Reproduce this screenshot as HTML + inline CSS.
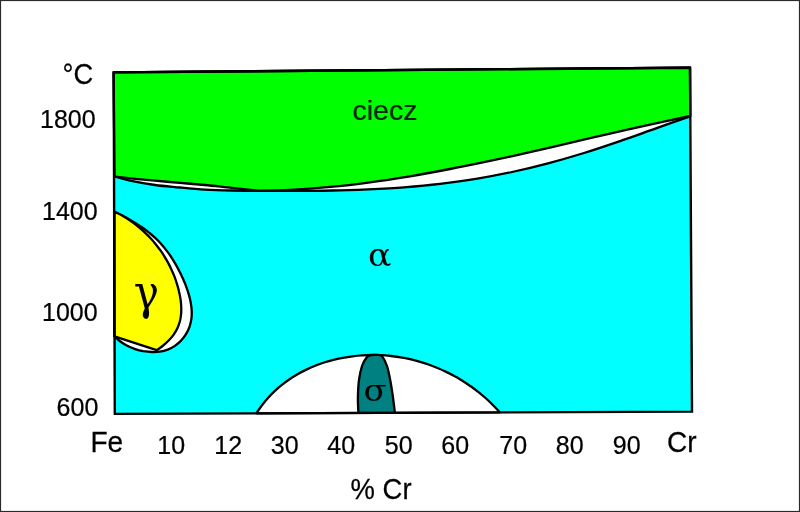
<!DOCTYPE html>
<html><head><meta charset="utf-8">
<style>
html,body{margin:0;padding:0;background:#fff;}
body{width:800px;height:512px;overflow:hidden;position:relative;}
svg{position:absolute;left:0;top:0;display:block;}
text{font-family:"Liberation Sans",sans-serif;fill:#000;}
.n,.l{stroke:#000;stroke-width:0.25px;}
.n{font-size:25.5px;}
.l{font-size:28.5px;}
.g{font-family:"DejaVu Serif","Liberation Serif",serif;}
path{stroke-linejoin:round;}
</style></head><body>
<svg width="800" height="512" viewBox="0 0 800 512">
<rect x="0" y="0" width="800" height="512" fill="#fff"/>
<rect x="0.5" y="0.5" width="799" height="511" fill="none" stroke="#2a2a2a" stroke-width="1.2"/>
<path d="M113.7,72.4 L690.0,67.7 L692.0,411.6 L114.8,413.9 Z" fill="#00ffff"/>
<path d="M114.5,176.5 C117.1,177.2 123.2,179.2 130.0,180.6 C136.8,182.0 146.7,183.8 155.0,185.0 C163.3,186.2 171.7,186.7 180.0,187.5 C188.3,188.3 196.3,189.1 205.0,189.6 C213.7,190.1 222.8,190.3 232.0,190.5 C241.2,190.7 249.3,190.8 260.0,190.8 C270.7,190.9 284.0,191.0 296.0,190.9 C308.0,190.9 320.0,190.8 332.0,190.5 C344.0,190.3 356.0,189.9 368.0,189.4 C380.0,188.8 392.0,188.2 404.0,187.3 C416.0,186.3 428.0,185.2 440.0,183.8 C452.0,182.4 464.0,180.8 476.0,178.8 C488.0,176.9 500.0,174.6 512.0,172.0 C524.0,169.5 536.0,166.6 548.0,163.4 C560.0,160.2 572.0,156.7 584.0,153.0 C596.0,149.3 608.0,145.2 620.0,141.1 C632.0,137.0 644.3,132.5 656.0,128.4 C667.7,124.2 684.3,118.3 690.0,116.3 L690.0,67.7 L113.7,72.4 Z" fill="#fff" stroke="#000" stroke-width="2.3"/>
<path d="M113.7,72.4 L690.0,67.7 L690.3,116.0 C683.3,117.4 663.3,121.7 650.0,124.6 C636.7,127.5 623.3,130.6 610.0,133.7 C596.7,136.7 583.3,139.8 570.0,142.9 C556.7,146.0 543.3,149.1 530.0,152.1 C516.7,155.1 503.3,158.1 490.0,160.9 C476.7,163.7 463.3,166.5 450.0,169.0 C436.7,171.6 423.3,174.1 410.0,176.3 C396.7,178.5 383.3,180.6 370.0,182.3 C356.7,184.1 343.3,185.7 330.0,186.9 C316.7,188.2 302.1,189.2 290.0,189.8 C277.9,190.4 262.9,190.5 257.5,190.6 C253.2,190.2 240.8,188.8 232.0,187.9 C223.2,187.0 213.7,185.8 205.0,185.0 C196.3,184.2 188.3,183.6 180.0,182.9 C171.7,182.2 163.3,181.4 155.0,180.6 C146.7,179.8 136.8,179.0 130.0,178.3 C123.2,177.6 117.1,176.8 114.5,176.5 Z" fill="#00ff00" stroke="#000" stroke-width="2.3"/>
<path d="M114.5,211.7 C115.7,212.3 119.4,214.1 121.8,215.3 C124.2,216.6 126.7,217.9 129.0,219.2 C131.4,220.6 133.8,222.0 136.1,223.4 C138.5,224.9 140.8,226.4 143.0,228.0 C145.2,229.6 147.4,231.2 149.5,233.0 C151.7,234.7 153.7,236.5 155.7,238.4 C157.7,240.2 159.6,242.2 161.4,244.2 C163.2,246.3 165.0,248.4 166.6,250.6 C168.3,252.8 169.9,255.0 171.4,257.3 C172.9,259.6 174.3,261.9 175.7,264.3 C177.0,266.6 178.3,269.0 179.5,271.5 C180.8,273.9 181.9,276.3 183.0,278.8 C184.1,281.3 185.2,283.8 186.1,286.3 C187.1,288.9 188.0,291.6 188.7,294.2 C189.5,296.9 190.2,299.7 190.7,302.4 C191.2,305.2 191.6,308.0 191.7,310.7 C191.8,313.4 191.8,316.2 191.4,318.9 C191.0,321.6 190.4,324.2 189.5,326.8 C188.6,329.3 187.4,331.8 186.0,334.1 C184.6,336.4 182.9,338.6 181.1,340.6 C179.2,342.5 177.1,344.3 174.9,345.9 C172.7,347.4 170.3,348.7 167.8,349.6 C165.3,350.6 162.6,351.3 159.8,351.7 C157.1,352.1 154.3,352.1 151.5,352.0 C148.7,352.0 145.9,351.6 143.2,351.2 C140.4,350.7 137.8,350.0 135.2,349.1 C132.6,348.3 130.1,347.2 127.7,346.0 C125.2,344.8 122.9,343.4 120.7,341.8 C118.5,340.2 115.5,337.3 114.5,336.4 Z" fill="#fff" stroke="#000" stroke-width="2.3"/>
<path d="M114.5,211.7 C115.6,212.3 119.0,213.9 121.3,215.1 C123.5,216.4 125.6,217.7 127.8,219.0 C129.9,220.4 132.0,221.8 134.0,223.3 C136.0,224.8 138.0,226.4 139.9,228.0 C141.8,229.6 143.7,231.3 145.5,233.1 C147.3,234.8 149.1,236.6 150.8,238.5 C152.5,240.3 154.1,242.2 155.7,244.2 C157.3,246.2 158.8,248.2 160.3,250.2 C161.8,252.3 163.2,254.4 164.5,256.6 C165.8,258.7 167.1,260.9 168.3,263.1 C169.5,265.4 170.6,267.6 171.6,269.9 C172.7,272.2 173.7,274.6 174.6,276.9 C175.5,279.3 176.3,281.7 177.0,284.2 C177.8,286.6 178.5,289.0 179.0,291.5 C179.6,294.0 180.1,296.5 180.5,299.0 C180.9,301.5 181.1,304.0 181.2,306.5 C181.3,309.0 181.3,311.5 181.1,314.0 C180.9,316.4 180.5,318.9 179.9,321.2 C179.2,323.6 178.4,326.0 177.4,328.2 C176.3,330.5 175.0,332.7 173.5,334.8 C172.0,336.9 170.2,338.9 168.4,340.8 C166.6,342.7 164.6,344.4 162.6,346.0 C160.7,347.6 157.6,349.5 156.6,350.2 L114.5,336.4 Z" fill="#ffff00" stroke="#000" stroke-width="2.3"/>
<path d="M256.4,413.3 C257.3,412.0 260.0,407.8 262.0,405.2 C264.0,402.6 266.0,400.1 268.2,397.7 C270.3,395.4 272.6,393.1 274.9,390.9 C277.3,388.7 279.7,386.6 282.2,384.7 C284.7,382.7 287.2,380.8 289.9,379.0 C292.5,377.2 295.2,375.6 298.0,374.0 C300.7,372.4 303.6,370.9 306.4,369.6 C309.3,368.2 312.2,366.9 315.2,365.7 C318.2,364.6 321.2,363.5 324.2,362.5 C327.3,361.5 330.4,360.6 333.5,359.8 C336.6,359.1 339.8,358.4 342.9,357.8 C346.1,357.2 349.3,356.7 352.5,356.3 C355.7,355.9 358.9,355.6 362.1,355.4 C365.3,355.2 368.6,355.0 371.8,355.0 C375.0,355.0 378.2,355.1 381.5,355.2 C384.7,355.4 387.9,355.7 391.1,356.0 C394.3,356.4 397.4,356.8 400.6,357.4 C403.8,357.9 406.9,358.5 410.0,359.2 C413.1,359.9 416.3,360.7 419.3,361.6 C422.4,362.5 425.5,363.5 428.5,364.5 C431.5,365.6 434.5,366.7 437.5,368.0 C440.4,369.2 443.3,370.5 446.2,371.9 C449.1,373.3 452.0,374.7 454.8,376.3 C457.6,377.8 460.3,379.5 463.1,381.2 C465.8,382.9 468.4,384.7 471.1,386.5 C473.7,388.4 476.2,390.3 478.8,392.3 C481.3,394.3 483.7,396.4 486.1,398.5 C488.5,400.7 490.9,402.9 493.1,405.2 C495.4,407.5 498.6,411.1 499.8,412.3 Z" fill="#fff" stroke="#000" stroke-width="2.3"/>
<path d="M358.4,412.9 C358.3,410.3 357.8,403.0 357.9,397.5 C358.0,392.0 358.3,385.2 359.0,380.0 C359.7,374.8 360.7,369.8 362.0,366.0 C363.3,362.2 365.3,359.1 366.8,357.2 C368.3,355.4 369.6,355.6 371.0,355.2 C372.4,354.8 374.8,354.9 375.5,354.8 C376.1,354.8 377.9,354.7 379.0,355.0 C380.1,355.3 380.9,354.6 382.2,356.4 C383.5,358.2 385.7,362.1 387.0,366.0 C388.3,369.9 389.3,375.3 390.2,380.0 C391.1,384.7 391.7,388.6 392.5,394.0 C393.3,399.4 394.5,409.6 394.9,412.7 Z" fill="#008080" stroke="#000" stroke-width="2.3"/>
<path d="M113.7,72.4 L690.0,67.7 L692.0,411.6 L114.8,413.9 Z" fill="none" stroke="#000" stroke-width="2.4" style="stroke-linejoin:miter"/>
<text class="l" style="font-size:29.2px" transform="translate(62.6,83.6) scale(0.935,1)">°C</text>
<text class="n" transform="translate(40.0,127.9) scale(0.98,1)">1800</text>
<text class="n" transform="translate(42.0,219.5) scale(0.98,1)">1400</text>
<text class="n" transform="translate(42.0,320.5) scale(0.98,1)">1000</text>
<text class="n" transform="translate(56.6,415.7) scale(0.98,1)">600</text>
<text class="l" style="font-size:29.2px" transform="translate(90.5,451.5) scale(0.96,1)">Fe</text>
<text class="n" transform="translate(157.3,454.0) scale(0.98,1)">10</text>
<text class="n" transform="translate(214.3,454.0) scale(0.98,1)">12</text>
<text class="n" transform="translate(270.8,454.0) scale(0.98,1)">30</text>
<text class="n" transform="translate(327.3,454.0) scale(0.98,1)">40</text>
<text class="n" transform="translate(384.8,454.0) scale(0.98,1)">50</text>
<text class="n" transform="translate(441.3,454.0) scale(0.98,1)">60</text>
<text class="n" transform="translate(499.3,454.0) scale(0.98,1)">70</text>
<text class="n" transform="translate(555.8,454.0) scale(0.98,1)">80</text>
<text class="n" transform="translate(612.8,454.0) scale(0.98,1)">90</text>
<text class="l" style="font-size:29.5px" transform="translate(667.0,452.2) scale(0.95,1)">Cr</text>
<text class="l" style="font-size:29.8px" transform="translate(350.6,499.1) scale(0.92,1)">% Cr</text>
<text class="l" style="font-size:27.3px;fill:#002400;stroke:#002400" transform="translate(352.5,119.6) scale(1.045,1)">ciecz</text>
<text class="g" font-size="31.2" transform="translate(368.0,266.0) scale(1.11,1)">α</text>
<text class="g" font-size="48" transform="translate(133.8,308.8) scale(0.88,1)">γ</text>
<text class="g" font-size="29" transform="translate(363.5,400.8) scale(1.17,1)">σ</text>
</svg>
</body></html>
